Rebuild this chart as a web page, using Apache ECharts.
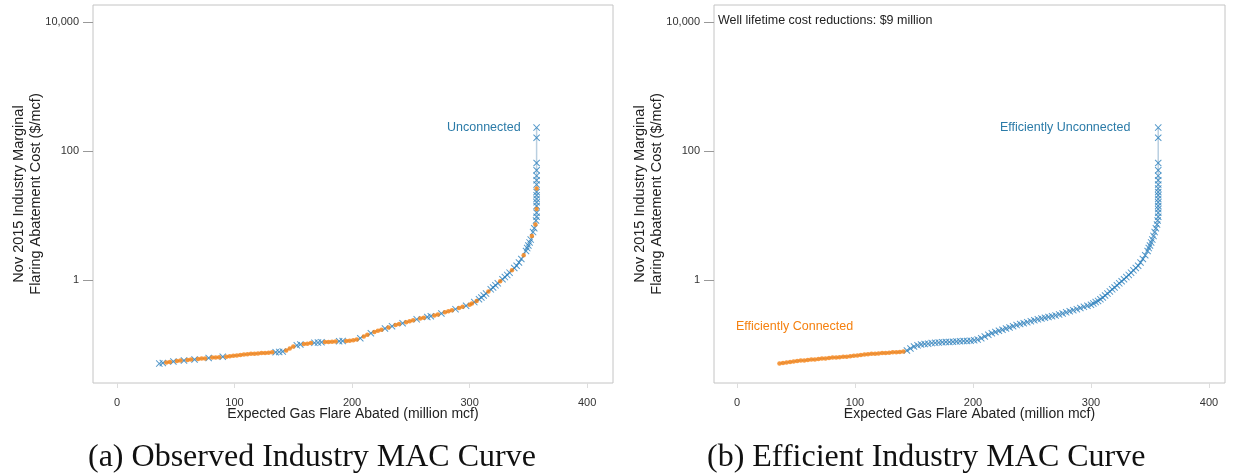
<!DOCTYPE html>
<html>
<head>
<meta charset="utf-8">
<script src="https://cdn.jsdelivr.net/npm/echarts@6/dist/echarts.min.js"></script>
<style>
  html, body { margin: 0; padding: 0; background: #fff; }
  #chart { width: 1238px; height: 476px; }
</style>
</head>
<body>
<div id="chart"></div>
<script>
// well abated gas (million mcf, cumulative) and marginal cost ($/mcf)
var macX = [
  36, 39, 42, 45, 48, 51, 54, 57, 60, 63, 66, 69, 72, 75, 78, 81, 84, 87, 90, 93, 96, 99, 102, 105, 108, 111, 114, 117, 120, 123, 126, 129, 132, 135, 138, 141,
  144, 147, 150, 153, 156, 159, 162, 165, 168, 171, 174, 177, 180, 183, 186, 189, 192, 195, 198, 201, 204, 207, 210, 213, 216, 219, 222, 225, 228, 231, 234, 237, 240, 243, 246, 249, 252, 255, 258, 261, 264, 267, 270, 273, 276, 279, 282, 285, 288, 291, 294, 297, 300,
  302, 304, 306, 308, 310, 312, 314, 316, 318, 320, 322, 324, 326, 328, 330, 332, 334, 336, 338,
  340, 342, 344, 346, 348, 349, 350, 351, 352, 353, 354, 355, 356, 356.5,
  357, 357, 357, 357, 357, 357, 357, 357, 357, 357, 357, 357, 357, 357, 357, 357
];
var macCost = [
  0.050, 0.051, 0.052, 0.053, 0.054, 0.055, 0.056, 0.056, 0.057, 0.058, 0.058, 0.059, 0.060, 0.060, 0.061, 0.062, 0.062, 0.063, 0.064, 0.064, 0.065, 0.066, 0.067, 0.068, 0.069, 0.070, 0.071, 0.071, 0.072, 0.073, 0.073, 0.074, 0.075, 0.075, 0.076, 0.077,
  0.080, 0.086, 0.092, 0.096, 0.099, 0.101, 0.102, 0.104, 0.105, 0.106, 0.107, 0.108, 0.108, 0.109, 0.110, 0.111, 0.112, 0.112, 0.113, 0.115, 0.118, 0.124, 0.132, 0.140, 0.148, 0.155, 0.162, 0.168, 0.175, 0.182, 0.190, 0.198, 0.206, 0.212, 0.220, 0.228, 0.236, 0.243, 0.250, 0.258, 0.265, 0.272, 0.280, 0.290, 0.300, 0.312, 0.325, 0.338, 0.350, 0.365, 0.380, 0.395, 0.410,
  0.43, 0.45, 0.47, 0.50, 0.53, 0.57, 0.61, 0.66, 0.71, 0.76, 0.82, 0.88, 0.95, 1.02, 1.10, 1.19, 1.29, 1.40, 1.52,
  1.65, 1.85, 2.1, 2.4, 2.8, 3.1, 3.4, 3.8, 4.2, 4.8, 5.5, 6.3, 7.2, 8.3,
  9.5, 11, 12.5, 14, 16, 18, 20.5, 23, 26, 30, 35, 41, 50, 65, 160, 230
];
// observed: 1 = connected to pipeline, 0 = unconnected
var obsConn = [
  0, 0, 1, 1, 0, 1, 1, 0, 1, 1, 0, 1, 1, 1, 0, 1, 1, 1, 0, 1, 1, 1, 1, 1, 1, 1, 1, 1, 1, 1, 1, 1, 1, 0, 0, 0,
  1, 1, 1, 0, 0, 1, 1, 1, 0, 0, 0, 1, 1, 1, 1, 0, 0, 1, 1, 1, 1, 0, 1, 1, 0, 1, 1, 1, 0, 1, 0, 1, 1, 0, 1, 1, 1, 0, 1, 1, 0, 0, 1, 1, 0, 1, 1, 1, 0, 1, 1, 0, 1,
  1, 0, 1, 0, 0, 0, 0, 1, 0, 0, 0, 0, 1, 0, 0, 0, 0, 1, 0,
  0, 0, 0, 1, 0, 0, 0, 0, 0, 1, 0, 0, 1, 0,
  0, 0, 1, 0, 0, 0, 0, 0, 1, 0, 0, 0, 0, 0, 0, 0
];
// efficient: wells left of this abated amount are connected
var effCutoff = 143;

var xTicks = [0, 100, 200, 300, 400];
var yTicks = [1, 100, 10000];

var blue = "#2a80bd";
var orange = "#f5800f";
var crossPath = "path://M0,1L1,0L5,4L9,0L10,1L6,5L10,9L9,10L5,6L1,10L0,9L4,5Z";
var font = "'Liberation Sans', Arial, sans-serif";

var all = [], obsC = [], obsU = [], effC = [], effU = [];
for (var i = 0; i < macX.length; i++) {
  var p = [macX[i], macCost[i]];
  all.push(p);
  if (obsConn[i] == 1) obsC.push(p); else obsU.push(p);
  if (macX[i] < effCutoff) effC.push(p); else effU.push(p);
}

function xAxisFor(g, min, max) {
  return {
    type: "value", gridIndex: g, min: min, max: max,
    name: "Expected Gas Flare Abated (million mcf)",
    nameLocation: "middle", nameGap: 24, nameMoveOverlap: false,
    nameTextStyle: { fontFamily: font, fontSize: 14, color: "#222" },
    axisLine: { show: false, onZero: false },
    axisTick: { show: true, length: 5, lineStyle: { color: "#ddd" }, customValues: xTicks },
    axisLabel: { fontFamily: font, fontSize: 11, color: "#333", margin: 14, customValues: xTicks },
    splitLine: { show: false }
  };
}
function yAxisFor(g) {
  return {
    type: "log", gridIndex: g, min: 0.025, max: 18400,
    name: "Nov 2015 Industry Marginal\nFlaring Abatement Cost ($/mcf)",
    nameLocation: "middle", nameGap: 49, nameRotate: 90, nameMoveOverlap: false,
    nameTextStyle: { fontFamily: font, fontSize: 14.5, color: "#222", lineHeight: 17 },
    axisLine: { show: false, onZero: false },
    axisTick: { show: true, length: 10, lineStyle: { color: "#999" }, customValues: yTicks },
    axisLabel: {
      fontFamily: font, fontSize: 11, color: "#333", margin: 14, customValues: yTicks,
      formatter: function (v) { return Math.round(v).toLocaleString("en-US"); }
    },
    splitLine: { show: false }
  };
}
function seriesFor(g, conn, unconn) {
  return [
    { type: "line", xAxisIndex: g, yAxisIndex: g, data: all, showSymbol: false, silent: true,
      lineStyle: { color: "#b9cfe0", width: 1.5 }, z: 1 },
    { type: "scatter", xAxisIndex: g, yAxisIndex: g, data: unconn, symbol: crossPath, symbolSize: 7,
      itemStyle: { color: blue, opacity: 0.8 }, z: 2 },
    { type: "scatter", xAxisIndex: g, yAxisIndex: g, data: conn, symbol: "circle", symbolSize: 4.5,
      itemStyle: { color: orange }, z: 3 }
  ];
}

var chart = echarts.init(document.getElementById("chart"), null, { renderer: "canvas" });
var option = {
  backgroundColor: "#fff",
  animation: false,
  grid: [
    { left: 93, top: 5, width: 520, height: 378, show: true, borderColor: "#c4c4c4", borderWidth: 1, backgroundColor: "#fff" },
    { left: 714, top: 5, width: 511, height: 378, show: true, borderColor: "#c4c4c4", borderWidth: 1, backgroundColor: "#fff" }
  ],
  xAxis: [xAxisFor(0, -20.4, 422), xAxisFor(1, -19.5, 413.6)],
  yAxis: [yAxisFor(0), yAxisFor(1)],
  series: seriesFor(0, obsC, obsU).concat(seriesFor(1, effC, effU)),
  graphic: [
    { type: "text", left: 447, top: 121, style: { text: "Unconnected", fill: "#2b7ba8", font: "12.5px " + font } },
    { type: "text", left: 1000, top: 121, style: { text: "Efficiently Unconnected", fill: "#2b7ba8", font: "12.5px " + font } },
    { type: "text", left: 736, top: 320, style: { text: "Efficiently Connected", fill: orange, font: "12.5px " + font } },
    { type: "text", left: 718, top: 14, style: { text: "Well lifetime cost reductions: $9 million", fill: "#222", font: "12.5px " + font } },
    { type: "text", left: 88, top: 442, style: { text: "(a) Observed Industry MAC Curve", fill: "#111", font: "32px 'Liberation Serif', serif" } },
    { type: "text", left: 707, top: 442, style: { text: "(b) Efficient Industry MAC Curve", fill: "#111", font: "32px 'Liberation Serif', serif" } }
  ]
};
chart.setOption(option);
</script>
</body>
</html>
